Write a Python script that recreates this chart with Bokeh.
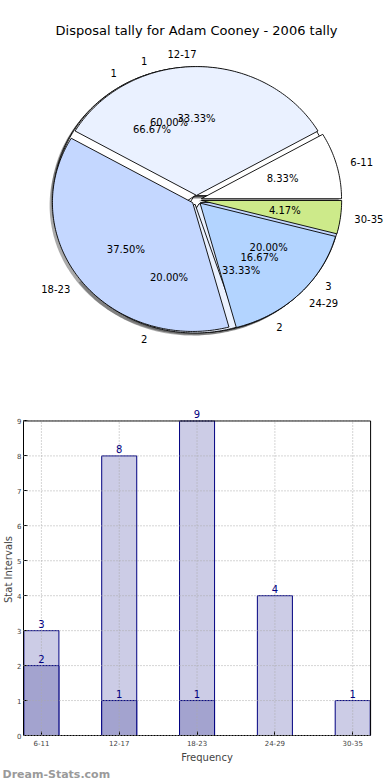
import numpy as np
from bokeh.plotting import figure
from bokeh.models import Range1d, ColumnDataSource, FixedTicker, Label, Title
from bokeh.layouts import column
from bokeh.embed import file_html
from bokeh.resources import INLINE
from bokeh.core.properties import value

# ---------------- data ----------------
title_text = "Disposal tally for Adam Cooney - 2006 tally"
categories = ["6-11", "12-17", "18-23", "24-29", "30-35"]
pie_main_values = [2, 8, 9, 4, 1]
pie_a_labels = ["1", "2", "3"]
pie_a_values = [3, 1, 1]
pie_b_labels = ["1", "2"]
pie_b_values = [2, 1]
bar_light = [3, 8, 9, 4, 1]
bar_dark = [2, 1, 1, 0, 0]
y_ticks = [0, 1, 2, 3, 4, 5, 6, 7, 8, 9]
x_label = "Frequency"
y_label = "Stat Intervals"
watermark = "Dream-Stats.com"

pie_colors = ["#ffffff", "#eaf1ff", "#c4d7ff", "#b3d4ff", "#cdea8a"]
FONT = "DejaVu Sans"

W = 390
LEFT = 21        # shared left border of both figures (column aligns frames)
RIGHT_GAP = 20   # gap right of the bar plot box

# ---------------- pie figure ----------------
CX, CY, RX, RY = 195.0, 199.4, 141.0, 128.8
EXPLODE = 0.035

p1 = figure(width=W, height=398, x_range=Range1d(LEFT, W), y_range=Range1d(398, 0),
            output_backend="svg", toolbar_location=None, min_border=0, min_border_left=LEFT,
            x_axis_location=None, y_axis_location=None)
p1.grid.visible = False
p1.outline_line_color = None


def pie_geometry(vals):
    vals = np.asarray(vals, dtype=float)
    frac = vals / vals.sum()
    edges = np.concatenate([[0.0], np.cumsum(frac)]) * 2 * np.pi
    return frac, edges


def wedge_poly(t1, t2, dx, dy):
    n = max(int(np.degrees(t2 - t1)), 2) + 1
    ts = np.linspace(t1, t2, n)
    xs = [CX + dx] + list(CX + dx + RX * np.cos(ts))
    ys = [CY - dy] + list(CY - dy - RY * np.sin(ts))
    return xs, ys


pies = [(pie_b_values, pie_b_labels), (pie_a_values, pie_a_labels),
        (pie_main_values, categories)]

shadow_xs, shadow_ys = [], []
wedge_xs, wedge_ys, wedge_cols = [], [], []
lab_x, lab_y, lab_t, lab_align = [], [], [], []
pct_x, pct_y, pct_t = [], [], []
for vals, labs in pies:
    frac, edges = pie_geometry(vals)
    for i in range(len(vals)):
        t1, t2 = edges[i], edges[i + 1]
        tm = 0.5 * (t1 + t2)
        dx = EXPLODE * RX * np.cos(tm)
        dy = EXPLODE * RY * np.sin(tm)
        xs, ys = wedge_poly(t1, t2, dx, dy)
        wedge_xs.append(xs); wedge_ys.append(ys)
        wedge_cols.append(pie_colors[i % len(pie_colors)])
        sx, sy = wedge_poly(t1, t2, dx - 0.02 * RX, dy - 0.02 * RY)
        shadow_xs.append(sx); shadow_ys.append(sy)
        c, s = np.cos(tm), np.sin(tm)
        lab_x.append(CX + dx + 1.1 * RX * c)
        lab_y.append(CY - dy - 1.1 * RY * s)
        lab_t.append(labs[i])
        lab_align.append("left" if c > 1e-9 else "right")
        pct_x.append(CX + dx + 0.6 * RX * c)
        pct_y.append(CY - dy - 0.6 * RY * s)
        pct_t.append("%.2f%%" % (100 * frac[i]))

p1.patches(shadow_xs, shadow_ys, fill_color="#555555", fill_alpha=0.5, line_color=None)
p1.patches(wedge_xs, wedge_ys, fill_color=wedge_cols, line_color="black", line_width=0.9)

lab_src = ColumnDataSource(dict(x=lab_x, y=lab_y, t=lab_t, a=lab_align))
p1.text(x="x", y="y", text="t", text_align="a", source=lab_src, text_baseline="middle",
        text_font=value(FONT), text_font_size="10px", text_color="black")
pct_src = ColumnDataSource(dict(x=pct_x, y=pct_y, t=pct_t))
p1.text(x="x", y="y", text="t", text_align="center", source=pct_src, text_baseline="middle",
        text_font=value(FONT), text_font_size="10px", text_color="black")
p1.text(x=[CX], y=[30], text=[title_text], text_align="center", text_baseline="middle",
        text_font=value(FONT), text_font_size="13px", text_color="black")

# ---------------- bar figure ----------------
idx = list(range(len(categories)))
X0, X1 = -0.23, 4.23
XR = X1 + RIGHT_GAP * (X1 - X0) / (W - RIGHT_GAP - LEFT)
YTOP = y_ticks[-1]
p2 = figure(width=W, height=382, x_range=Range1d(X0, XR), y_range=Range1d(0, YTOP + 0.5),
            output_backend="svg", toolbar_location=None,
            min_border_left=LEFT, min_border_right=0, min_border_top=5, min_border_bottom=40)
p2.outline_line_color = None
p2.grid.visible = False
p2.xaxis.ticker = FixedTicker(ticks=idx)
p2.xaxis.major_label_overrides = {i: c for i, c in zip(idx, categories)}
p2.xaxis.bounds = (X0, X1)
p2.yaxis.ticker = FixedTicker(ticks=y_ticks)
p2.yaxis.bounds = (0, YTOP)
for ax in (p2.xaxis[0], p2.yaxis[0]):
    ax.major_tick_in = 4
    ax.major_tick_out = 0
    ax.minor_tick_line_color = None
    ax.major_label_text_font = FONT
    ax.major_label_text_font_size = "7px"
    ax.axis_label_text_font = FONT
    ax.axis_label_text_font_size = "10px"
    ax.axis_label_text_font_style = "normal"
    ax.axis_line_color = "black"
p2.xaxis.axis_label = x_label
p2.yaxis.axis_label = y_label
p2.xaxis.major_label_standoff = 4
p2.xaxis.axis_label_standoff = 3
p2.yaxis.major_label_standoff = 2
p2.yaxis.axis_label_standoff = 0
p2.yaxis.axis_label_text_line_height = 0.9

p2.vbar(x=idx, top=bar_light, width=0.45, fill_color="#ccccE6", line_color="#000080", line_width=1)
p2.vbar(x=idx, top=bar_dark, width=0.45, fill_color="#a3a3cf", line_color="#000080", line_width=1)

# dotted grid lines, only inside the plot box
GRID = dict(line_color="#aaaaaa", line_dash="1 2", line_width=1, level="annotation")
p2.segment(x0=idx, y0=[0] * len(idx), x1=idx, y1=[YTOP] * len(idx), **GRID)
p2.segment(x0=[X0] * len(y_ticks), y0=y_ticks, x1=[X1] * len(y_ticks), y1=y_ticks, **GRID)
# box around the plotting area (top and right edges)
p2.line(x=[X0, X1, X1], y=[YTOP, YTOP, 0], line_color="black", line_width=1)

for xs_, ys_ in ((idx, bar_light), (idx, bar_dark)):
    for xv, yv in zip(xs_, ys_):
        if yv > 0:
            p2.add_layout(Label(x=xv, y=yv, text=str(yv), text_align="center",
                                text_baseline="bottom", y_offset=3, text_color="#000080",
                                text_font=FONT, text_font_size="10px"))

p2.add_layout(Title(text=watermark, align="left", offset=-LEFT, standoff=0,
                    text_font=FONT, text_font_size="11px", text_font_style="bold",
                    text_color="#9a9a9a"), "below")

layout = column(p1, p2, spacing=0)
open("out.html", "w").write(file_html(layout, INLINE))
